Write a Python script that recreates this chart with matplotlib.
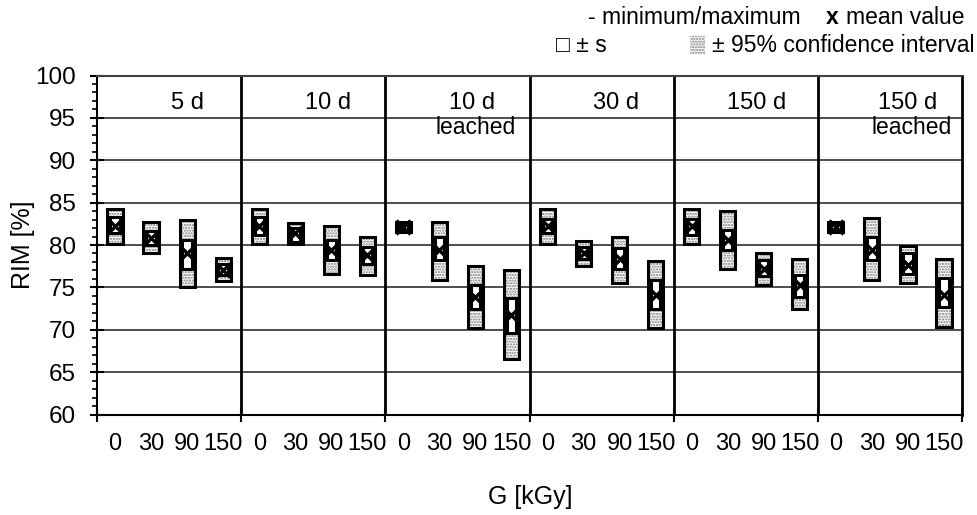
import matplotlib
matplotlib.use("Agg")
import matplotlib.pyplot as plt
from matplotlib.patches import Rectangle
import numpy as np

plt.rcParams['font.family'] = ['Liberation Sans', 'DejaVu Sans']
plt.rcParams['hatch.linewidth'] = 1.1

# ---- data ----
panels = ["5 d", "10 d", "10 d\nleached", "30 d", "150 d", "150 d\nleached"]
doses = ["0", "30", "90", "150"]

# outer stippled box (low / high)
box_hi = [84.3, 82.7, 82.9, 78.5,
          84.3, 82.6, 82.2, 80.9,
          82.7, 82.7, 77.5, 77.0,
          84.3, 80.5, 81.0, 78.1,
          84.3, 84.0, 79.1, 78.4,
          82.7, 83.2, 79.9, 78.4]
box_lo = [80.1, 79.0, 75.1, 75.8,
          80.1, 80.1, 76.6, 76.5,
          81.5, 75.9, 70.2, 66.5,
          80.1, 77.5, 75.5, 70.2,
          80.1, 77.2, 75.3, 72.5,
          81.5, 75.9, 75.5, 70.3]
# inner box (+/- s)
s_hi = [83.3, 81.6, 80.6, 77.8,
        83.3, 82.0, 80.6, 79.8,
        82.5, 81.0, 75.3, 73.7,
        83.1, 79.8, 79.6, 75.9,
        83.1, 81.8, 78.2, 76.5,
        82.5, 81.0, 79.0, 76.1]
s_lo = [81.4, 80.0, 77.2, 76.5,
        81.2, 80.4, 78.2, 77.8,
        81.7, 78.2, 72.5, 69.6,
        81.4, 78.4, 77.2, 72.5,
        81.2, 79.4, 76.3, 73.9,
        81.7, 78.2, 76.6, 72.7]
means = [82.3, 80.8, 79.0, 77.1,
         82.2, 81.4, 79.4, 78.8,
         82.1, 79.4, 73.9, 71.7,
         82.2, 79.1, 78.4, 74.1,
         82.2, 80.6, 77.2, 75.3,
         82.1, 79.4, 77.6, 74.1]

W, H = 978, 515
fig = plt.figure(figsize=(W / 100, H / 100), dpi=100)
ax = fig.add_axes([97 / W, 1 - 414.5 / H, (962 - 97) / W, (414.5 - 75.5) / H])

n = len(means)
x = np.arange(n)
ax.set_xlim(-0.5, n - 0.5)
ax.set_ylim(60, 100)

# grid
for v in range(65, 101, 5):
    ax.axhline(v, color='#404040', lw=1.3, zorder=1)
for b in np.arange(3.5, n - 1, 4):
    ax.axvline(b, color='black', lw=2.0, zorder=1)

bw_out = 0.42
bw_in = 0.26
for i in range(n):
    ax.add_patch(Rectangle((x[i] - bw_out / 2, box_lo[i]), bw_out, box_hi[i] - box_lo[i],
                           facecolor='white', edgecolor='#7a7a7a', hatch='......', lw=0, zorder=2))
    ax.add_patch(Rectangle((x[i] - bw_out / 2, box_lo[i]), bw_out, box_hi[i] - box_lo[i],
                           facecolor='none', edgecolor='black', lw=2.2, zorder=3))
    ax.add_patch(Rectangle((x[i] - bw_in / 2, s_lo[i]), bw_in, s_hi[i] - s_lo[i],
                           facecolor='white', edgecolor='black', lw=2.2, zorder=4))
    ax.plot([x[i]], [means[i]], marker='x', ms=10, mew=2.4, color='black', zorder=5)

# panel labels
lab_pos = [(2.0, 96.8), (5.9, 96.8), (9.9, 96.8), (13.9, 96.8), (17.8, 96.8), (22.0, 96.8)]
for (px, py), t in zip(lab_pos, panels):
    lines = t.split("\n")
    ax.text(px, py, lines[0], ha='center', va='center', fontsize=17, zorder=6)
    if len(lines) > 1:
        ax.text(px + 0.1, py - 2.9, lines[1], ha='center', va='center', fontsize=16.5, zorder=6)

# ticks
ax.set_xticks(x)
ax.set_xticklabels(doses * 6, fontsize=17)
ax.tick_params(axis='x', which='major', length=0, pad=13)
ax.set_xticks(np.arange(-0.5, n, 4), minor=True)
ax.tick_params(axis='x', which='minor', length=10, width=1.5, direction='inout')

ax.set_yticks(np.arange(60, 101, 5))
ax.set_yticks(np.arange(60, 101, 1), minor=True)
ax.tick_params(axis='y', which='major', length=10, width=1.5, direction='inout', labelsize=17.5, pad=10)
ax.tick_params(axis='y', which='minor', length=3.5, width=1.2, direction='out')

for s in ax.spines.values():
    s.set_linewidth(1.5)
ax.spines['top'].set_color('#404040')
ax.spines['right'].set_color('black')
ax.spines['right'].set_linewidth(2.0)

ax.set_ylabel("RIM [%]", fontsize=18, labelpad=0)
fig.text(530 / W, 1 - 497 / H, "G [kGy]", ha='center', va='center', fontsize=18)

# legend
fig.text(588 / W, 1 - 17 / H, "- minimum/maximum", ha='left', va='center', fontsize=16.5)
fig.text(826 / W, 1 - 17 / H, "x", ha='left', va='center', fontsize=16.5, fontweight='bold')
fig.text(846 / W, 1 - 17 / H, "mean value", ha='left', va='center', fontsize=16.5)
fig.text(556 / W, 1 - 45 / H, "\u25a1 \u00b1 s", ha='left', va='center', fontsize=16.5)
fig.patches.append(Rectangle((690 / W, 1 - 54 / H), 15 / W, 18 / H, transform=fig.transFigure,
                             facecolor='white', edgecolor='#7a7a7a', hatch='......', lw=0))
fig.text(712 / W, 1 - 45 / H, "\u00b1 95% confidence interval", ha='left', va='center', fontsize=16.5)

fig.savefig("out.png", dpi=100)
